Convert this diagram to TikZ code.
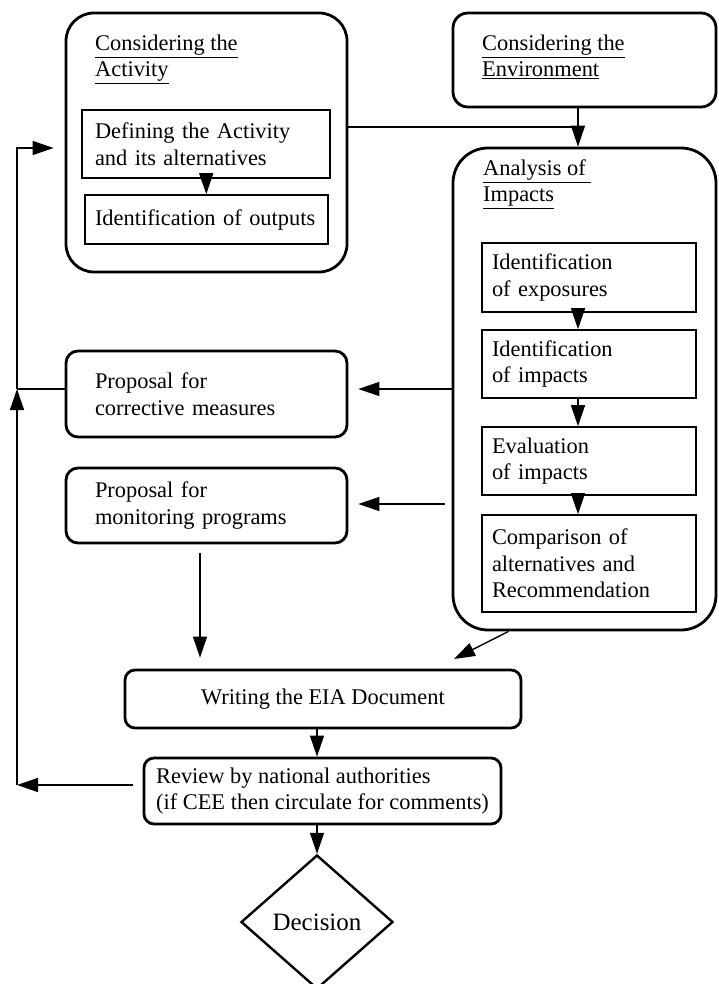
\documentclass[tikz,border=0pt]{standalone}
\usepackage{fontspec}
\setmainfont{Liberation Serif}
\usetikzlibrary{shapes.geometric, arrows.meta}

\begin{document}
\begin{tikzpicture}[x=1pt, y=-1pt, font=\fontsize{22.4}{26.5}\selectfont,
    stage/.style={draw, line width=2.8pt, rounded corners=#1, inner sep=0pt},
    inbox/.style={draw, line width=1.6pt, align=left, inner ysep=0pt, inner xsep=#1},
    panel/.style={draw, line width=2.8pt, rounded corners=12pt, align=left, inner xsep=29pt, text width=223pt},
    heading/.style={anchor=base west, align=left, inner sep=0pt},
    flow/.style={-{Triangle[length=21pt, width=14pt]}, line width=1.4pt},
    link/.style={line width=1.4pt}]
  \useasboundingbox (0,0) rectangle (719,984);

  % stages
  \node[stage=28pt, minimum width=281pt, minimum height=259pt] (act) at (206.5,142.5) {};
  \node[stage=15pt, minimum width=263pt, minimum height=94pt] (env) at (584.5,60) {};
  \node[stage=35pt, minimum width=263pt, minimum height=482pt] (ana) at (584.5,389) {};

  % headings (anchored on their last line)
  \node[heading] (actT) at (95,77) {\underline{Considering the}\\\underline{Activity}};
  \node[heading] (envT) at (482,77) {\underline{Considering the}\\\underline{Environment}};
  \node[heading] (anaT) at (483,202) {\underline{Analysis of~}\\\underline{Impacts}};

  % steps inside the stages
  \node[inbox=13pt, text width=222pt, minimum height=68pt] (def) at (206,144) {Defining the Activity\\and its alternatives};
  \node[inbox=10pt, text width=223pt, minimum height=49pt] (out) at (206.5,219.5) {Identification of outputs};

  \node[inbox=10pt, text width=194pt, minimum height=69pt] (exp) at (589,277.5) {Identification\\of exposures};
  \node[inbox=10pt, text width=194pt, minimum height=68pt] (imp) at (589,364) {Identification\\of impacts};
  \node[inbox=10pt, text width=194pt, minimum height=68pt] (eva) at (589,461) {Evaluation\\of impacts};
  \node[inbox=10pt, text width=194pt, minimum height=97pt] (cmp) at (589,563.5) {Comparison of\\alternatives and\\Recommendation};

  % proposals
  \node[panel, minimum height=86pt] (cor) at (206.5,394) {Proposal for\\corrective measures};
  \node[panel, minimum height=75pt] (mon) at (206.5,505.5) {Proposal for\\monitoring programs};

  % report and review
  \node[stage=10pt, minimum width=396pt, minimum height=58pt] (wri) at (323,699) {Writing the EIA Document};
  \node[stage=10pt, minimum width=357pt, minimum height=66pt, align=left] (rev) at (322.5,791) {Review by national authorities\\(if CEE then circulate for comments)};
  \node[draw, diamond, line width=2.4pt, minimum width=152pt, minimum height=134pt, aspect=1.13, inner sep=0pt, font=\fontsize{25}{30}\selectfont] (dec) at (317,922) {Decision};

  \coordinate (join) at (578,127);
  \coordinate (fbTop) at (17,148);
  \coordinate (fbMid) at (17,389);
  \coordinate (fbBot) at (17,785);
  \coordinate (monIn) at (445,504);
  \coordinate (monOut) at (200,553);
  \coordinate (wriIn) at (454,659);

  \draw[link] (act.east |- join) -- (join);
  \draw[flow] (env.south -| join) -- (ana.north -| join);
  \draw[flow] (def) -- (out);
  \draw[flow] (exp.south -| join) -- (imp.north -| join);
  \draw[flow] (imp.south -| join) -- (eva.north -| join);
  \draw[flow] (eva.south -| join) -- (cmp.north -| join);

  \draw[flow, shorten >=10pt] (ana.west |- fbMid) -- (cor.east |- fbMid);
  \draw[flow, shorten >=10pt] (monIn) -- (monIn -| mon.east);
  \draw[link] (cor.west |- fbMid) -- (fbMid);
  \draw[flow] (fbBot) -- (fbMid);
  \draw[flow, shorten >=11pt] (fbMid) -- (fbTop) -- (act.west |- fbTop);

  \draw[flow, shorten >=11pt] (monOut) -- (monOut |- wri.north);
  \draw[flow] ([xshift=-76pt]ana.south) -- (wriIn);
  \draw[flow] (wri.south -| dec) -- (rev.north -| dec);
  \draw[flow] (rev.south -| dec) -- (dec.north);
  \draw[flow, shorten <=10pt] (rev.west |- fbBot) -- (fbBot);
\end{tikzpicture}
\end{document}
